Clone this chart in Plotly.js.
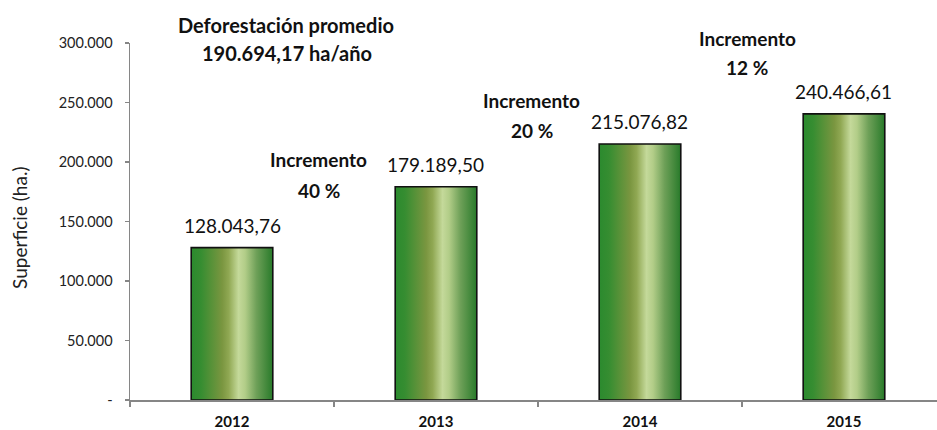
<!DOCTYPE html>
<html>
<head>
<meta charset="utf-8">
<script src="https://cdn.plot.ly/plotly-3.0.1.min.js"></script>
<style>
  html, body { margin: 0; padding: 0; background: #fff; overflow: hidden; }
  #chart { width: 937px; height: 430px; }
</style>
</head>
<body>
<div id="chart"></div>
<script>
// ---- Data ----
const years = ['2012', '2013', '2014', '2015'];
const superficie = [128043.76, 179189.50, 215076.82, 240466.61];
const incrementos = [40, 20, 12];
const yTickVals = [0, 50000, 100000, 150000, 200000, 250000, 300000];
const yTickText = ['-', '50.000', '100.000', '150.000', '200.000', '250.000', '300.000'];

// ---- Helpers ----
function fmtEs(v) {
  const parts = v.toFixed(2).split('.');
  const intPart = parts[0].replace(/\B(?=(\d{3})+(?!\d))/g, '.');
  return intPart + ',' + parts[1];
}
const promedio = superficie.reduce((a, b) => a + b, 0) / superficie.length;

const FONT = 'Lato, "Open Sans", sans-serif';
const AX = '#868686';

const trace = {
  type: 'bar',
  x: years,
  y: superficie,
  marker: { color: '#6a9a45', line: { color: '#111111', width: 1.6 } },
  hoverinfo: 'x+y'
};

const annotations = [];
// data labels (x given as category index)
superficie.forEach((v, i) => {
  annotations.push({
    x: i, y: v, xref: 'x', yref: 'y',
    text: fmtEs(v), showarrow: false,
    xanchor: 'center', yanchor: 'bottom', yshift: 9,
    font: { family: FONT, size: 19, color: '#111' }
  });
});
// increment labels (between bars), paper coords
const incPos = [
  { x: 0.2342, y1: 0.6723, y2: 0.5882 },
  { x: 0.4981, y1: 0.8403, y2: 0.7563 },
  { x: 0.7646, y1: 1.0140, y2: 0.9300 }
];
incrementos.forEach((inc, i) => {
  annotations.push({
    x: incPos[i].x, y: incPos[i].y1, xref: 'paper', yref: 'paper',
    xanchor: 'center', yanchor: 'middle',
    text: 'Incremento', showarrow: false,
    font: { family: FONT, size: 19, color: '#111', weight: 'bold' }
  });
  annotations.push({
    x: incPos[i].x, y: incPos[i].y2, xref: 'paper', yref: 'paper',
    xanchor: 'center', yanchor: 'middle',
    text: inc + ' %', showarrow: false,
    font: { family: FONT, size: 19, color: '#111', weight: 'bold' }
  });
});
// average title
annotations.push({
  x: 0.1933, y: 1.0504, xref: 'paper', yref: 'paper',
  xanchor: 'center', yanchor: 'middle',
  text: 'Deforestación promedio', showarrow: false,
  font: { family: FONT, size: 20, color: '#111', weight: 'bold' }
});
annotations.push({
  x: 0.195, y: 0.972, xref: 'paper', yref: 'paper',
  xanchor: 'center', yanchor: 'middle',
  text: fmtEs(promedio) + ' ha/año', showarrow: false,
  font: { family: FONT, size: 20, color: '#111', weight: 'bold' }
});
// y axis title
annotations.push({
  x: -0.1363, y: 0.482, xref: 'paper', yref: 'paper',
  text: 'Superficie (ha.)', showarrow: false, textangle: -90,
  xanchor: 'center', yanchor: 'middle',
  font: { family: FONT, size: 19, color: '#222' }
});

const layout = {
  width: 937, height: 430,
  margin: { l: 130, r: 0, t: 43, b: 30, pad: 0 },
  paper_bgcolor: '#ffffff', plot_bgcolor: '#ffffff',
  showlegend: false,
  bargap: 0.6,
  font: { family: FONT, color: '#222' },
  xaxis: {
    type: 'category',
    range: [-0.5, 3.456],
    tickson: 'boundaries',
    ticks: 'outside', ticklen: 5, tickwidth: 1.5, tickcolor: AX,
    showline: true, linecolor: AX, linewidth: 1.5,
    showgrid: false, zeroline: false,
    ticklabelstandoff: 7,
    tickfont: { family: FONT, size: 15, color: '#111', weight: 'bold' },
    fixedrange: true
  },
  yaxis: {
    range: [0, 300000],
    tickmode: 'array', tickvals: yTickVals, ticktext: yTickText,
    ticks: 'outside', ticklen: 4, tickwidth: 1.5, tickcolor: AX,
    showline: true, linecolor: AX, linewidth: 1.5,
    showgrid: false, zeroline: false,
    ticklabelstandoff: 9,
    tickfont: { family: FONT, size: 14.5, color: '#222' },
    fixedrange: true
  },
  annotations: annotations
};

function applyGradient(gd) {
  const svg = gd.querySelector('.main-svg');
  if (!svg) return;
  const NS = 'http://www.w3.org/2000/svg';
  let defs = svg.querySelector('defs');
  if (!defs) { defs = document.createElementNS(NS, 'defs'); svg.insertBefore(defs, svg.firstChild); }
  if (!svg.querySelector('#barGrad')) {
    const g = document.createElementNS(NS, 'linearGradient');
    g.setAttribute('id', 'barGrad');
    g.setAttribute('x1', '0'); g.setAttribute('y1', '0');
    g.setAttribute('x2', '1'); g.setAttribute('y2', '0');
    const stops = [
      [0, '#2b8a2e'], [0.12, '#368d31'], [0.38, '#7a9640'], [0.46, '#90a853'],
      [0.58, '#c4d99a'], [0.66, '#b2cd88'], [0.8, '#6ea058'], [1, '#287a2a']
    ];
    stops.forEach(([o, c]) => {
      const s = document.createElementNS(NS, 'stop');
      s.setAttribute('offset', o);
      s.setAttribute('stop-color', c);
      g.appendChild(s);
    });
    defs.appendChild(g);
  }
  gd.querySelectorAll('.barlayer .point path').forEach(p => {
    p.style.fill = 'url(#barGrad)';
    p.style.fillOpacity = 1;
  });
}

Plotly.newPlot('chart', [trace], layout, { displayModeBar: false, staticPlot: true }).then(gd => {
  applyGradient(gd);
  gd.on && gd.on('plotly_afterplot', () => applyGradient(gd));
});
</script>
</body>
</html>
